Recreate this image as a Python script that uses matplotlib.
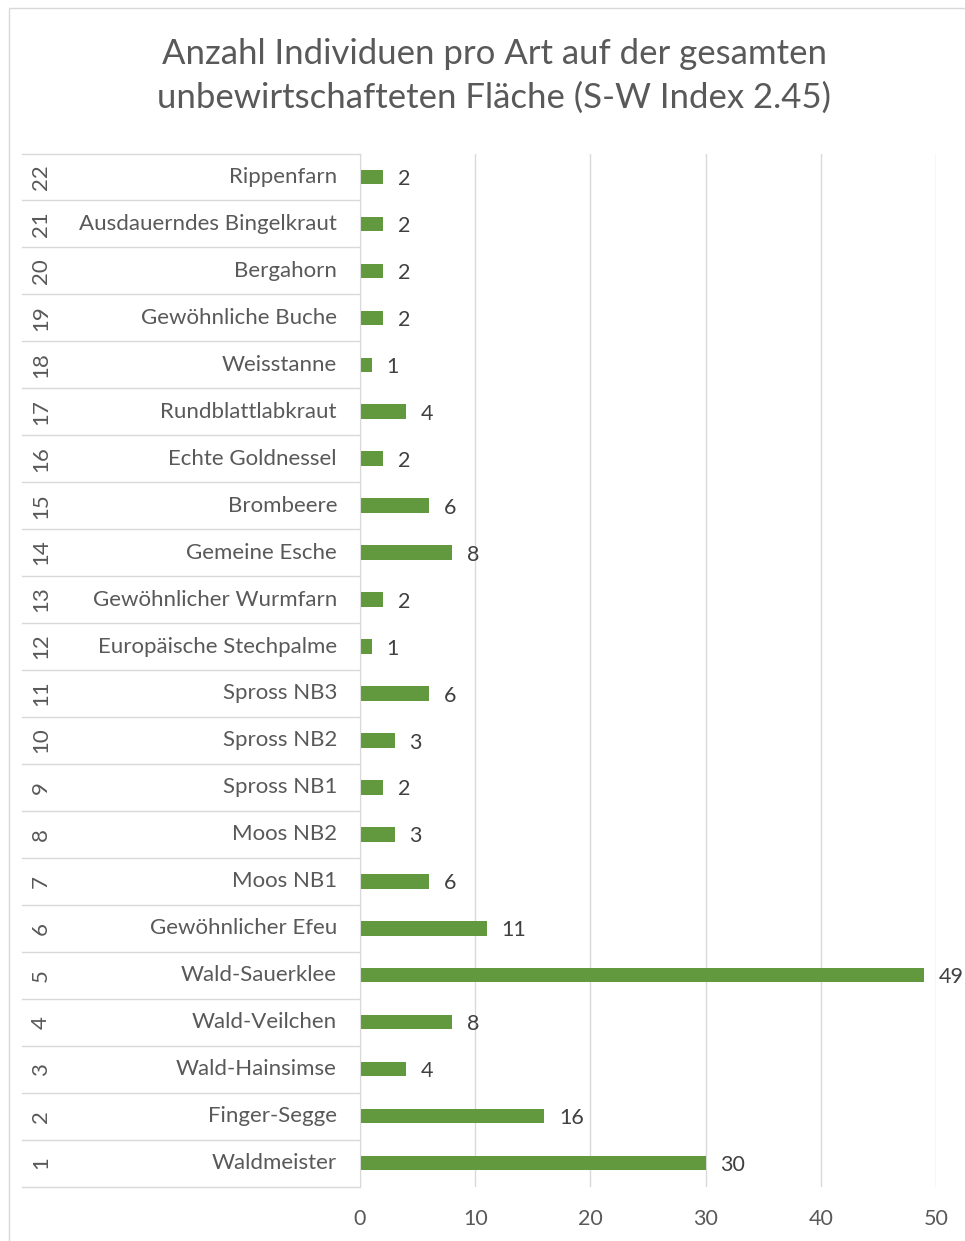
import matplotlib
matplotlib.use("Agg")
import matplotlib.pyplot as plt
from matplotlib.patches import Rectangle

plt.rcParams['font.family'] = ['Lato', 'DejaVu Sans']

nummern = list(range(1, 23))
arten = ['Waldmeister', 'Finger-Segge', 'Wald-Hainsimse', 'Wald-Veilchen',
         'Wald-Sauerklee', 'Gewöhnlicher Efeu', 'Moos NB1', 'Moos NB2',
         'Spross NB1', 'Spross NB2', 'Spross NB3', 'Europäische Stechpalme',
         'Gewöhnlicher Wurmfarn', 'Gemeine Esche', 'Brombeere',
         'Echte Goldnessel', 'Rundblattlabkraut', 'Weisstanne',
         'Gewöhnliche Buche', 'Bergahorn', 'Ausdauerndes Bingelkraut',
         'Rippenfarn']
anzahl = [30, 16, 4, 8, 49, 11, 6, 3, 2, 3, 6, 1, 2, 8, 6, 2, 4, 1, 2, 2, 2, 2]
x_ticks = [0, 10, 20, 30, 40, 50]

W, H = 965, 1241
fig = plt.figure(figsize=(W / 100, H / 100), dpi=100)

# chart border like Excel
fig.patches.append(Rectangle((9 / W, -0.01), 1.0, 1 - 8 / H + 0.01,
                             transform=fig.transFigure, fill=False,
                             edgecolor='#D9D9D9', linewidth=1))

x0, x1 = 360, 936
y_top, y_bot = 153.5, 1186.5
ax = fig.add_axes([x0 / W, 1 - y_bot / H, (x1 - x0) / W, (y_bot - y_top) / H])

grau = '#D9D9D9'
text_col = '#595959'
gruen = '#62993E'

pos = list(range(len(anzahl)))
bars = ax.barh(pos, anzahl, height=0.31, color=gruen)

ax.set_xlim(0, 50)
ax.set_ylim(-0.5, len(anzahl) - 0.5)
ax.set_xticks(x_ticks)
ax.set_xticklabels([str(t) for t in x_ticks], fontsize=15.5, color=text_col)
ax.tick_params(axis='x', length=0, pad=16)
ax.set_yticks([])
ax.grid(axis='x', color=grau, linewidth=1)
ax.set_axisbelow(True)
for s in ['top', 'right', 'bottom']:
    ax.spines[s].set_visible(False)
ax.spines['left'].set_color(grau)

# values next to bars
for p, v in zip(pos, anzahl):
    ax.annotate(str(v), (v, p), xytext=(10.5, -1.5), textcoords='offset points',
                ha='left', va='center', fontsize=15.5, color='#404040')

# two-level category axis
ytr = ax.get_yaxis_transform()
px = x1 - x0
for p in range(len(anzahl) + 1):
    ax.plot([(22 - x0) / px, 0], [p - 0.5, p - 0.5], color=grau, lw=1,
            transform=ytr, clip_on=False)
for p, n, a in zip(pos, nummern, arten):
    ax.text((337 - x0) / px, p, a, transform=ytr, ha='right', va='center',
            fontsize=16, color=text_col)
    ax.text((41 - x0) / px, p, str(n), transform=ytr, ha='center',
            va='center', rotation=90, fontsize=16, color=text_col)

fig.text(494 / W, 1 - 76 / H,
         'Anzahl Individuen pro Art auf der gesamten\n'
         'unbewirtschafteten Fläche (S-W Index 2.45)',
         ha='center', va='center', fontsize=25, color=text_col,
         linespacing=1.45)

fig.savefig('out.png', dpi=100)
